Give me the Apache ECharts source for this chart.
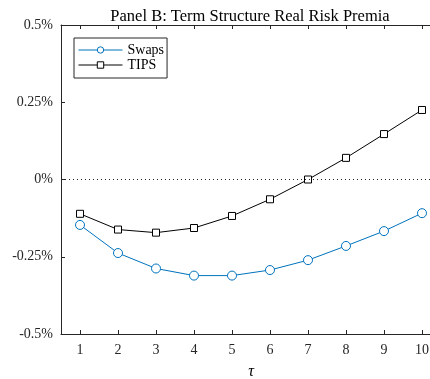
<!DOCTYPE html>
<html>
<head>
<meta charset="utf-8">
<script src="https://cdn.jsdelivr.net/npm/echarts@6/dist/echarts.min.js"></script>
<style>
  html, body { margin: 0; padding: 0; background: #fff; }
  #chart { width: 430px; height: 379px; }
</style>
</head>
<body>
<div id="chart"></div>
<script>
// Maturities (years) and real risk premia in percent
const maturities = [1, 2, 3, 4, 5, 6, 7, 8, 9, 10];
const swaps = [-0.147, -0.238, -0.288, -0.311, -0.311, -0.293, -0.261, -0.215, -0.167, -0.109];
const tips  = [-0.111, -0.162, -0.172, -0.157, -0.118, -0.064, 0.000, 0.070, 0.147, 0.225];
const yTicks = [-0.5, -0.25, 0, 0.25, 0.5];

const axisColor = '#262626';
const serif = '"Liberation Serif", "DejaVu Serif", serif';

const pairs = arr => maturities.map((m, i) => [m, arr[i]]);

const chart = echarts.init(document.getElementById('chart'), null, { renderer: 'canvas' });
chart.setOption({
  animation: false,
  backgroundColor: '#ffffff',
  title: {
    text: 'Panel B: Term Structure Real Risk Premia',
    left: 245,
    top: 3,
    textAlign: 'center',
    textStyle: { fontFamily: serif, fontSize: 16.5, fontWeight: 'normal', color: '#000' }
  },
  legend: {
    orient: 'vertical',
    left: 74,
    top: 38,
    itemWidth: 44,
    itemHeight: 8,
    itemGap: 1,
    padding: [5, 3, 6, 4],
    backgroundColor: '#fff',
    borderColor: axisColor,
    borderWidth: 1,
    itemStyle: { borderWidth: 1 },
    lineStyle: { width: 1 },
    textStyle: { fontFamily: serif, fontSize: 14, color: '#000' },
    data: ['Swaps', 'TIPS']
  },
  grid: { left: 61, top: 25, width: 380, height: 309, outerBoundsMode: 'none', containLabel: false },
  xAxis: [{
    type: 'value',
    min: 0.5,
    max: 10.5,
    position: 'bottom',
    name: 'τ',
    nameLocation: 'middle',
    nameGap: 30,
    nameTextStyle: { fontFamily: serif, fontSize: 16, fontStyle: 'italic', color: '#000' },
    axisLine: { show: true, onZero: false, lineStyle: { color: axisColor, width: 1 } },
    axisTick: { show: true, inside: true, length: 4, customValues: maturities, lineStyle: { color: axisColor } },
    axisLabel: { customValues: maturities, margin: 9, fontFamily: serif, fontSize: 14, color: '#262626' },
    splitLine: { show: false }
  }, {
    type: 'value',
    min: 0.5,
    max: 10.5,
    position: 'top',
    axisLine: { show: true, onZero: false, lineStyle: { color: axisColor, width: 1 } },
    axisTick: { show: true, inside: true, length: 4, customValues: maturities, lineStyle: { color: axisColor } },
    axisLabel: { show: false },
    splitLine: { show: false }
  }],
  yAxis: {
    type: 'value',
    min: -0.5,
    max: 0.5,
    interval: 0.25,
    axisLine: { show: true, onZero: false, lineStyle: { color: axisColor, width: 1 } },
    axisTick: { show: true, inside: true, length: 4, lineStyle: { color: axisColor } },
    axisLabel: {
      margin: 8,
      fontFamily: serif,
      fontSize: 14,
      color: '#262626',
      formatter: v => (Math.round(v * 100) / 100) + '%'
    },
    splitLine: { show: false }
  },
  series: [{
    name: 'Swaps',
    type: 'line',
    data: pairs(swaps),
    symbol: 'circle',
    symbolSize: 9,
    showAllSymbol: true,
    color: '#0072BD',
    lineStyle: { color: '#0072BD', width: 1 },
    itemStyle: { color: '#fff', borderColor: '#0072BD', borderWidth: 1 },
    z: 3,
    markLine: {
      silent: true,
      symbol: 'none',
      label: { show: false },
      lineStyle: { color: '#222', type: [1, 3], width: 1 },
      data: [{ yAxis: 0 }]
    }
  }, {
    name: 'TIPS',
    type: 'line',
    data: pairs(tips),
    symbol: 'rect',
    symbolSize: 7,
    showAllSymbol: true,
    color: '#000',
    lineStyle: { color: '#000', width: 1 },
    itemStyle: { color: '#fff', borderColor: '#000', borderWidth: 1 },
    z: 3
  }]
});
</script>
</body>
</html>
